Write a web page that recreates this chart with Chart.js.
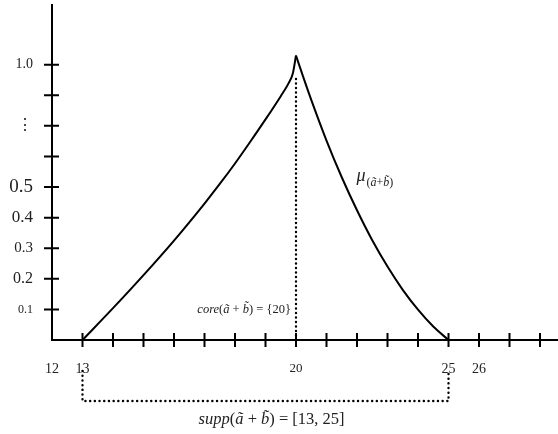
<!DOCTYPE html>
<html>
<head>
<meta charset="utf-8">
<script src="https://cdn.jsdelivr.net/npm/chart.js@4.4.1/dist/chart.umd.min.js"></script>
<style>
  body { margin: 0; background: #fff; }
  canvas { display: block; }
</style>
</head>
<body>
<canvas id="myChart" width="558" height="434"></canvas>
<script>
// membership function of a~ + b~
var leftX = [13, 14, 15, 16, 17, 17.5, 18, 18.5, 19, 19.5, 19.75, 19.9, 20];
var leftY = [0, 0.104, 0.212, 0.325, 0.446, 0.51, 0.577, 0.648, 0.721, 0.797, 0.838, 0.873, 0.93];
var rightX = [20, 20.25, 20.5, 21, 21.5, 22, 22.5, 23, 23.5, 24, 24.5, 25];
var rightY = [0.93, 0.856, 0.785, 0.652, 0.532, 0.424, 0.326, 0.24, 0.164, 0.099, 0.044, 0];

var coreValue = 20;
var coreTop = 0.86;
var suppRange = [13, 25];

var xTickMarks = [13, 14, 15, 16, 17, 18, 19, 20, 21, 22, 23, 24, 25, 26, 27, 28];
var xTickValues = [12, 13, 20, 25, 26];
var xTickLabels = ['12', '13', '20', '25', '26'];
var yTickMarks = [0.1, 0.2, 0.3, 0.4, 0.5, 0.6, 0.7, 0.8, 0.9];
var yTickLabels = ['0.1', '0.2', '0.3', '0.4', '0.5', '', '\u22EE', '', '1.0'];

var serif = '"Liberation Serif", "DejaVu Serif", serif';

function toPoints(xs, ys) {
  return xs.map(function (x, i) { return { x: x, y: ys[i] }; });
}

// text made of italic / upright pieces, like the math in the picture
function drawRich(ctx, parts, x, y, size, align) {
  var total = 0;
  parts.forEach(function (p) {
    ctx.font = (p[1] ? 'italic ' : '') + size + 'px ' + serif;
    p.w = ctx.measureText(p[0]).width;
    total += p.w;
  });
  var cx = align === 'right' ? x - total : (align === 'center' ? x - total / 2 : x);
  ctx.textAlign = 'left';
  ctx.textBaseline = 'middle';
  parts.forEach(function (p) {
    ctx.font = (p[1] ? 'italic ' : '') + size + 'px ' + serif;
    ctx.fillText(p[0], cx, y);
    cx += p.w;
  });
  return cx;
}

function noPadding(s) {
  s.paddingTop = 0;
  s.paddingBottom = 0;
  s.paddingLeft = 0;
  s.paddingRight = 0;
}

var decorations = {
  id: 'decorations',
  afterDatasetsDraw: function (chart) {
    var ctx = chart.ctx;
    var xs = chart.scales.x, ys = chart.scales.y;
    var axisY = ys.getPixelForValue(0);
    var axisX = xs.getPixelForValue(xs.min);
    ctx.save();
    ctx.strokeStyle = '#000';
    ctx.lineWidth = 2;
    ctx.beginPath();
    xTickMarks.forEach(function (v) {
      var px = xs.getPixelForValue(v);
      ctx.moveTo(px, axisY - 7);
      ctx.lineTo(px, axisY + 7);
    });
    yTickMarks.forEach(function (v) {
      var py = ys.getPixelForValue(v);
      ctx.moveTo(axisX - 8, py);
      ctx.lineTo(axisX + 7, py);
    });
    ctx.stroke();

    // dotted bracket under the axis for the support
    var a = xs.getPixelForValue(suppRange[0]);
    var b = xs.getPixelForValue(suppRange[1]);
    ctx.lineWidth = 2.4;
    ctx.setLineDash([0.1, 4.6]);
    ctx.lineCap = 'round';
    ctx.beginPath();
    ctx.moveTo(a, axisY + 31);
    ctx.lineTo(a, axisY + 61);
    ctx.lineTo(b, axisY + 61);
    ctx.lineTo(b, axisY + 31);
    ctx.stroke();
    ctx.setLineDash([]);

    ctx.fillStyle = '#222';
    drawRich(ctx, [['core', true], ['(', false], ['\u00E3', true], [' + ', false],
      ['b\u0303', true], [') = {20}', false]],
      xs.getPixelForValue(coreValue) - 5, ys.getPixelForValue(0.1), 12.5, 'right');

    var mx = xs.getPixelForValue(21.98), my = ys.getPixelForValue(0.535);
    var end = drawRich(ctx, [['\u03BC', true]], mx, my, 18, 'left');
    drawRich(ctx, [['(', false], ['\u00E3', true], ['+', false], ['b\u0303', true], [')', false]],
      end + 1, my + 7, 12, 'left');

    drawRich(ctx, [['supp', true], ['(', false], ['\u00E3', true], [' + ', false],
      ['b\u0303', true], [') = [13, 25]', false]],
      xs.getPixelForValue(19.2), axisY + 80, 16.5, 'center');
    ctx.restore();
  }
};

var ctx = document.getElementById('myChart').getContext('2d');
var myChart = new Chart(ctx, {
  type: 'line',
  data: {
    datasets: [{
      label: 'left',
      data: toPoints(leftX, leftY),
      borderColor: '#000',
      borderWidth: 2,
      pointRadius: 0,
      cubicInterpolationMode: 'monotone'
    }, {
      label: 'right',
      data: toPoints(rightX, rightY),
      borderColor: '#000',
      borderWidth: 2,
      pointRadius: 0,
      cubicInterpolationMode: 'monotone'
    }, {
      label: 'core',
      data: [{ x: coreValue, y: 0 }, { x: coreValue, y: coreTop }],
      borderColor: '#000',
      borderWidth: 2.4,
      borderDash: [0.1, 4.4],
      borderCapStyle: 'round',
      pointRadius: 0
    }]
  },
  options: {
    responsive: false,
    animation: false,
    devicePixelRatio: 1,
    layout: { padding: { top: 5, right: 0, bottom: 0, left: 0 } },
    plugins: { legend: { display: false }, tooltip: { enabled: false } },
    scales: {
      x: {
        type: 'linear',
        min: 12,
        max: 28.59,
        grid: { display: false, drawTicks: false },
        border: { display: true, color: '#000', width: 2 },
        afterBuildTicks: function (s) {
          s.ticks = xTickValues.map(function (v) { return { value: v }; });
        },
        afterFit: function (s) { s.height = 94; noPadding(s); },
        ticks: {
          autoSkip: false,
          maxRotation: 0,
          padding: 21,
          color: '#222',
          font: function (c) {
            return { family: serif, size: c.index === 2 ? 13 : 14 };
          },
          callback: function (v, i) { return xTickLabels[i]; }
        }
      },
      y: {
        min: 0,
        max: 1.095,
        grid: { display: false, drawTicks: false },
        border: { display: true, color: '#000', width: 2 },
        afterBuildTicks: function (s) {
          s.ticks = yTickMarks.map(function (v) { return { value: v }; });
        },
        afterFit: function (s) { s.width = 52; noPadding(s); },
        ticks: {
          autoSkip: false,
          padding: 19,
          color: '#222',
          font: function (c) {
            var sizes = [12, 16, 15, 17, 19, 13, 16, 13, 14];
            return { family: serif, size: sizes[c.index] || 13 };
          },
          callback: function (v, i) { return yTickLabels[i]; }
        }
      }
    }
  },
  plugins: [decorations]
});
</script>
</body>
</html>
